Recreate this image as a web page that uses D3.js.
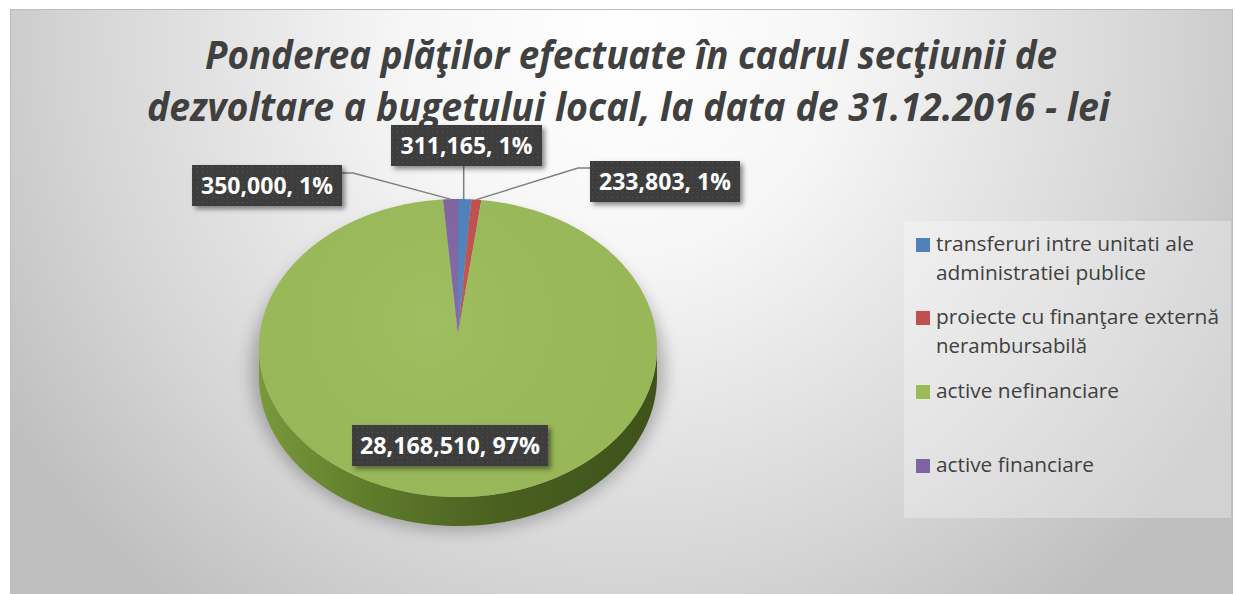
<!DOCTYPE html>
<html><head><meta charset="utf-8">
<script src="https://cdn.jsdelivr.net/npm/d3@7"></script>
<style>html,body{margin:0;padding:0;background:#fff;} svg{display:block}</style>
</head><body>
<svg id="chart" width="1235" height="594"></svg>
<script>
// ---------------- DATA ----------------
const categories = [
  "transferuri intre unitati ale administratiei publice",
  "proiecte cu finanţare externă nerambursabilă",
  "active nefinanciare",
  "active financiare"
];
const legendLines = [
  ["transferuri intre unitati ale", "administratiei publice"],
  ["proiecte cu finanţare externă", "nerambursabilă"],
  ["active nefinanciare"],
  ["active financiare"]
];
const values = [311165, 233803, 28168510, 350000];
const colors = ["#4f81bd", "#c0504d", "#9bbb59", "#8064a2"];
const titleLines = [
  "Ponderea plăţilor efectuate în cadrul secţiunii de",
  "dezvoltare a bugetului local, la data de 31.12.2016 - lei"
];

// ---------------- LAYOUT ----------------
const svg = d3.select("#chart");
const defs = svg.append("defs");

const bg = defs.append("radialGradient").attr("id", "bgGrad")
  .attr("gradientUnits", "userSpaceOnUse")
  .attr("cx", 620).attr("cy", 40).attr("r", 720);
bg.append("stop").attr("offset", 0).attr("stop-color", "#ffffff");
bg.append("stop").attr("offset", 0.3).attr("stop-color", "#f6f6f6");
bg.append("stop").attr("offset", 0.75).attr("stop-color", "#d5d5d5");
bg.append("stop").attr("offset", 1).attr("stop-color", "#bfbfbf");

svg.append("rect").attr("x", 10.5).attr("y", 9.5).attr("width", 1222).attr("height", 600)
  .attr("fill", "url(#bgGrad)").attr("stroke", "#bdbdbd").attr("stroke-width", 1);

const pat = defs.append("pattern").attr("id", "dots").attr("patternUnits", "userSpaceOnUse")
  .attr("width", 5).attr("height", 5);
pat.append("rect").attr("width", 5).attr("height", 5).attr("fill", "#3c3c3c");
pat.append("rect").attr("x", 2).attr("y", 2).attr("width", 1).attr("height", 1).attr("fill", "#565656");

const ds = defs.append("filter").attr("id", "dropShadow").attr("x", "-20%").attr("y", "-30%").attr("width", "140%").attr("height", "170%");
ds.append("feDropShadow").attr("dx", 3).attr("dy", 3).attr("stdDeviation", 2.5).attr("flood-color", "#000").attr("flood-opacity", 0.45);

const blur = defs.append("filter").attr("id", "blurShadow").attr("x", "-30%").attr("y", "-30%").attr("width", "160%").attr("height", "160%");
blur.append("feGaussianBlur").attr("stdDeviation", 8);

const sg = defs.append("linearGradient").attr("id", "sideGrad")
  .attr("gradientUnits", "userSpaceOnUse").attr("x1", 259).attr("x2", 657).attr("y1", 0).attr("y2", 0);
sg.append("stop").attr("offset", 0).attr("stop-color", "#7a983c");
sg.append("stop").attr("offset", 0.3).attr("stop-color", "#5d7a2a");
sg.append("stop").attr("offset", 0.6).attr("stop-color", "#4a6020");
sg.append("stop").attr("offset", 1).attr("stop-color", "#3e521a");

const tg = defs.append("radialGradient").attr("id", "topGrad")
  .attr("gradientUnits", "userSpaceOnUse").attr("cx", 430).attr("cy", 320).attr("r", 230);
tg.append("stop").attr("offset", 0).attr("stop-color", "#fff").attr("stop-opacity", 0.05);
tg.append("stop").attr("offset", 1).attr("stop-color", "#000").attr("stop-opacity", 0.02);

const FONT = "'Open Sans', sans-serif";

// ---------------- TITLE ----------------
const titleTargets = [852, 963];
const titleBase = [69, 121];
titleLines.forEach((line, i) => {
  svg.append("text")
    .attr("x", 631 - (i ? 2.5 : 0)).attr("y", titleBase[i])
    .attr("text-anchor", "middle")
    .attr("font-family", FONT)
    .attr("font-size", 40).attr("font-weight", 700).attr("font-style", "italic")
    .attr("fill", "#404040")
    .attr("textLength", titleTargets[i]).attr("lengthAdjust", "spacingAndGlyphs")
    .text(line);
});

// ---------------- PIE ----------------
const cx = 458, cy = 348, rx = 199, ry = 149, depth = 29;
const apex = [458, 334];
const pie = d3.pie().sort(null).value(d => d).startAngle(0).endAngle(2 * Math.PI);
const arcs = pie(values);
const total = d3.sum(values);

const pt = (a, r = 1, dy = 0) => [cx + rx * r * Math.sin(a), cy - ry * r * Math.cos(a) + dy];

svg.append("ellipse").attr("cx", cx).attr("cy", cy + 22).attr("rx", rx + 8).attr("ry", ry + 12)
  .attr("fill", "#000").attr("opacity", 0.25).attr("filter", "url(#blurShadow)");

const line = d3.line();
arcs.forEach((d, i) => {
  const a0 = Math.max(d.startAngle, Math.PI / 2), a1 = Math.min(d.endAngle, 3 * Math.PI / 2);
  if (a1 <= a0) return;
  const n = 120;
  const topPts = d3.range(n + 1).map(k => pt(a0 + (a1 - a0) * k / n));
  const botPts = topPts.slice().reverse().map(p => [p[0], p[1] + depth]);
  svg.append("path").attr("d", line(topPts.concat(botPts)) + "Z")
    .attr("fill", i === 2 ? "url(#sideGrad)" : d3.color(colors[i]).darker(1.2));
});

arcs.forEach((d, i) => {
  const n = Math.max(4, Math.ceil((d.endAngle - d.startAngle) * 80));
  const pts = [apex].concat(d3.range(n + 1).map(k => pt(d.startAngle + (d.endAngle - d.startAngle) * k / n)));
  svg.append("path").attr("d", line(pts) + "Z").attr("fill", colors[i]);
});
svg.append("ellipse").attr("cx", cx).attr("cy", cy).attr("rx", rx).attr("ry", ry)
  .attr("fill", "url(#topGrad)");

// ---------------- LABELS ----------------
const fmtNum = d3.format(",");
const fmtPct = d3.format(".0%");
const labelBoxes = [
  { x: 391, y: 125, w: 151, h: 41, line: "down" },
  { x: 590, y: 161, w: 150, h: 41, line: "left" },
  { x: 352, y: 425, w: 196, h: 41, line: null },
  { x: 192, y: 165, w: 150, h: 41, line: "right" }
];
const labelTexts = arcs.map((d, i) => fmtNum(values[i]) + ", " + fmtPct(values[i] / total));

arcs.forEach((d, i) => {
  const b = labelBoxes[i];
  if (!b.line) return;
  const mid = (d.startAngle + d.endAngle) / 2;
  const p = pt(mid, 1);
  let pts;
  if (b.line === "down") pts = [[p[0] - 1, b.y + b.h], [p[0] - 1, p[1]]];
  else if (b.line === "left") pts = [[b.x, b.y + 7], [b.x - 12, b.y + 7], p];
  else pts = [[b.x + b.w, b.y + 8], [b.x + b.w + 11, b.y + 8], p];
  svg.append("path").attr("d", line(pts)).attr("fill", "none")
    .attr("stroke", "#7f7f7f").attr("stroke-width", 1.5);
});

arcs.forEach((d, i) => {
  const b = labelBoxes[i];
  const g = svg.append("g");
  g.append("rect").attr("x", b.x).attr("y", b.y).attr("width", b.w).attr("height", b.h)
    .attr("fill", "url(#dots)").attr("filter", "url(#dropShadow)");
  const tw = i === 2 ? 180 : 132;
  g.append("text").attr("x", b.x + b.w / 2).attr("y", b.y + b.h / 2 + 8.5)
    .attr("text-anchor", "middle")
    .attr("font-family", FONT).attr("font-weight", 700)
    .attr("font-size", 24).attr("fill", "#ffffff")
    .attr("textLength", tw).attr("lengthAdjust", "spacingAndGlyphs")
    .text(labelTexts[i]);
});

// ---------------- LEGEND ----------------
svg.append("rect").attr("x", 904).attr("y", 221).attr("width", 327).attr("height", 297)
  .attr("fill", "#ffffff").attr("opacity", 0.3);
const legendWidths = [[258, 210], [283, 151], [183], [158]];
const legendTop = [238, 311, 385, 459];
categories.forEach((c, i) => {
  const g = svg.append("g");
  g.append("rect").attr("x", 916).attr("y", legendTop[i]).attr("width", 14).attr("height", 14)
    .attr("fill", colors[i]);
  legendLines[i].forEach((ln, j) => {
    g.append("text").attr("x", 936).attr("y", legendTop[i] + 13 + j * 29)
      .attr("font-family", FONT).attr("font-size", 20)
      .attr("fill", "#404040")
      .attr("textLength", legendWidths[i][j]).attr("lengthAdjust", "spacingAndGlyphs")
      .text(ln);
  });
});
</script>
</body></html>
